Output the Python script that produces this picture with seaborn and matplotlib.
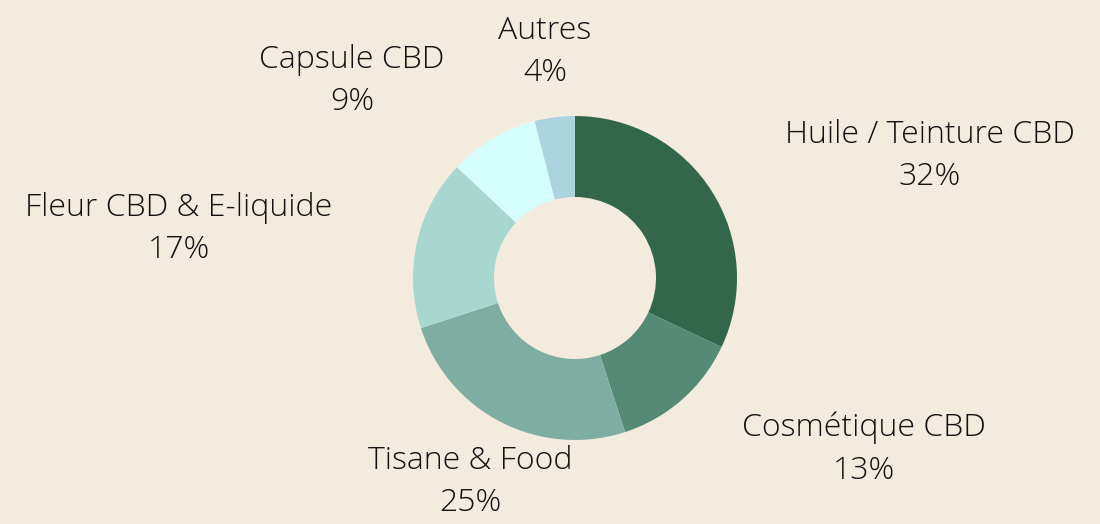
import matplotlib
matplotlib.use('Agg')
import matplotlib.pyplot as plt
import seaborn as sns

sns.set_theme(style='white')
plt.rcParams['font.family'] = ['Open Sans', 'DejaVu Sans']

# Data
categories = ['Huile / Teinture CBD', 'Cosmétique CBD', 'Tisane & Food',
              'Fleur CBD & E-liquide', 'Capsule CBD', 'Autres']
shares = [32, 13, 25, 17, 9, 4]
colors = ['#33674b', '#558a76', '#7eaea2', '#a8d7d0', '#d5fdfb', '#acd3de']

# label block centres in pixels (x, y from top)
label_pos = [(930, 156), (864, 449), (470, 482), (179, 229), (352, 81), (545, 52)]

bg = '#f4ebdf'
fig = plt.figure(figsize=(11, 5.24), dpi=100)
fig.patch.set_facecolor(bg)
ax = fig.add_axes([0, 0, 1, 1])
ax.set_facecolor(bg)

ax.pie(shares, colors=colors, startangle=90, counterclock=False,
       radius=162, center=(575, 524 - 278),
       wedgeprops=dict(width=81, linewidth=0))

for cat, val, (x, y) in zip(categories, shares, label_pos):
    ax.text(x, 524 - y, f'{cat}\n{val}%', ha='center', va='center',
            fontsize=23, fontweight='light', color='#111111', linespacing=1.45)

ax.set_xlim(0, 1100)
ax.set_ylim(0, 524)
ax.set_aspect('equal')
ax.axis('off')

plt.savefig('out.png', dpi=100, facecolor=bg)
